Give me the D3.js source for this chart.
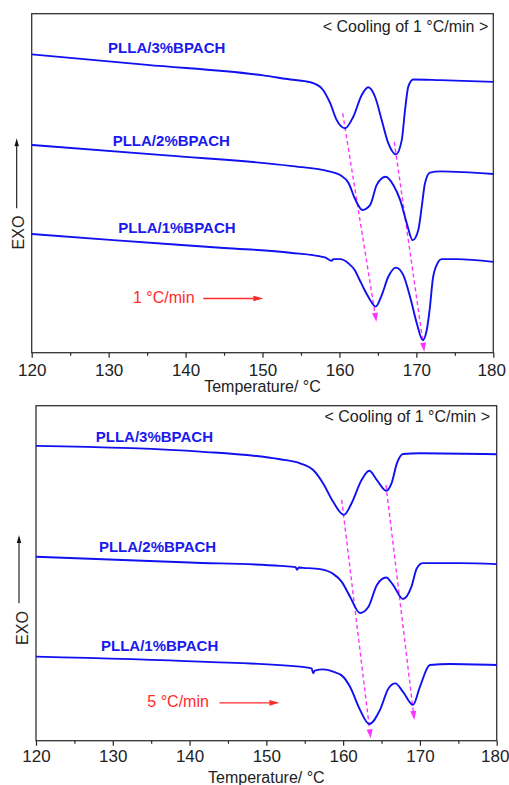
<!DOCTYPE html>
<html>
<head>
<meta charset="utf-8">
<script src="https://d3js.org/d3.v7.min.js"></script>
<style>
body{margin:0;background:#fff;}
text{font-family:"Liberation Sans",Arial,sans-serif;}
</style>
</head>
<body>
<svg id="lienzo" width="509" height="785"></svg>
<script>
/*
	DSC cooling curves PLLA/BPACH (T in °C, heat flow in a.u.)
*/

var ticksX = [120,130,140,150,160,170,180];
var minorX = [125,135,145,155,165,175];
var labels = ['PLLA/3%BPACH','PLLA/2%BPACH','PLLA/1%BPACH'];

// 1 °C/min
var t1_3 = [120,135,150.1,153.6,156.2,157.7,158.8,159.65,160.73,161.8,162.9,163.75,164.63,165.5,166.35,167.35,168.1,168.53,168.95,169.6,173.1,180];
var v1_3 = [88.0,84.9,81.8,80.6,79.8,78.0,73.6,68.6,66.2,69.6,76.0,78.3,75.5,68.6,61.8,58.5,62.7,71.6,78.5,80.6,80.4,79.9];
var t1_2 = [120,137.5,153.6,158.8,160.1,161.2,162.0,163.0,164.0,164.85,166.0,167.0,167.9,168.75,169.53,170.25,170.7,171.12,171.77,173.1,180];
var v1_2 = [61.3,58.2,55.1,53.4,52.4,50.0,45.5,42.1,43.6,49.5,51.9,49.5,45.0,38.2,33.2,36.2,43.1,50.0,53.1,53.5,52.7];
var t1_1 = [120,130.6,145,153.6,158.1,159.0,159.2,160.1,161.2,162.0,162.6,163.2,163.75,164.72,165.5,166.35,167.35,168.3,169.18,170.05,170.83,171.35,171.77,172.12,172.65,173.3,175.25,180];
var v1_1 = [35.0,33.2,30.9,29.5,28.1,27.1,27.6,27.6,26.3,24.3,21.6,18.8,16.5,13.6,17.0,22.4,25.1,22.9,16.5,8.7,3.7,6.7,13.6,21.4,25.9,27.6,27.6,26.8];

// 5 °C/min
var t5_3 = [120,141.4,151.8,154.4,156.1,157.4,158.7,160.1,161.1,162.4,163.4,164.4,165.6,166.3,167.0,167.8,170.0,180];
var v5_3 = [88.0,86.3,84.0,82.8,80.8,76.8,71.3,67.4,70.9,77.8,80.6,77.8,74.6,76.8,82.8,85.6,85.8,85.5];
var t5_2 = [120,140,151.8,153.8,154.0,154.2,154.8,157.0,158.7,159.8,160.9,162.2,163.3,164.4,165.6,166.5,167.8,168.9,169.6,170.4,175.2,180];
var v5_2 = [54.9,53.2,52.2,51.8,51.0,51.7,51.6,51.2,49.8,47.5,43.0,38.1,40.0,46.5,48.7,46.5,42.3,46.0,51.5,53.0,53.0,52.7];
var t5_1 = [120,141.4,154.4,155.9,156.1,156.3,157.4,158.7,160.0,160.9,162.2,163.4,164.8,165.9,166.8,167.8,169.1,170.0,171.3,173.9,180];
var v5_1 = [25.1,23.6,22.1,21.6,20.1,20.9,21.3,20.6,19.1,16.1,9.2,5.0,9.2,15.6,17.1,14.6,10.7,16.1,22.6,22.9,22.6];

// peak shift arrows [t0, v0, t1, v1]
var shift1 = [[160.43,70.6,164.8,9.1],[167.13,62.2,171.03,0.3]];
var shift5 = [[159.81,71.9,163.59,0.7],[165.58,76.3,169.27,6.2]];

function init(){
	panel({
		left:31.7, right:493.3, top:13.7, bottom:352.7, pad:6, title:392,
		curves:[[t1_3,v1_3],[t1_2,v1_2],[t1_1,v1_1]],
		labelPos:[[129.93,88.3],[130.53,61.0],[131.26,35.2]],
		cool:[179.35,94.6],
		rate:'1 °C/min', ratePos:[133.17,14.7], rateArrow:[142.3,150.1,16.0],
		shifts:shift1,
		exo:{x:16.7, base:24, cy:232.5, y0:208.3, y1:138.3}
	});
	panel({
		left:36, right:496.7, top:405.7, bottom:740.7, pad:4, title:782.7,
		curves:[[t5_3,v5_3],[t5_2,v5_2],[t5_1,v5_1]],
		labelPos:[[127.78,89.1],[128.2,56.4],[128.47,26.8]],
		cool:[179.13,95.0],
		rate:'5 °C/min', ratePos:[134.5,10.0], rateArrow:[143.9,151.7,11.3],
		shifts:shift5,
		exo:{x:19, base:28, cy:628, y0:603.3, y1:535}
	});
}

function punta(g, x0, y0, x1, y1, len, half, color){
	var a = Math.atan2(y1-y0, x1-x0);
	var bx = x1-len*Math.cos(a), by = y1-len*Math.sin(a);
	var px = -Math.sin(a)*half, py = Math.cos(a)*half;
	g.append('path')
		.attr('d','M'+x1+','+y1+'L'+(bx+px)+','+(by+py)+'L'+(bx-px)+','+(by-py)+'Z')
		.attr('fill',color);
	return [bx, by];
}

function panel(cfg){
	var lien = d3.select('#lienzo');
	var x = d3.scaleLinear().domain([120,180]).range([cfg.left,cfg.right]);
	var y = d3.scaleLinear().domain([0,100]).range([cfg.bottom,cfg.top]);
	var g = lien.append('g');

	// ticks
	g.append('g')
		.attr('transform','translate(0,'+cfg.bottom+')')
		.call(d3.axisBottom(x).tickValues(minorX).tickSize(3).tickFormat(''))
		.call(function(s){ s.select('.domain').remove(); });
	var ax = g.append('g')
		.attr('transform','translate(0,'+cfg.bottom+')')
		.call(d3.axisBottom(x).tickValues(ticksX).tickSize(5).tickPadding(cfg.pad).tickFormat(d3.format('d')));
	ax.select('.domain').remove();
	ax.selectAll('text').attr('font-size',17).attr('fill','#222')
		.attr('font-family','"Liberation Sans",Arial,sans-serif');
	// last label sits on the page edge
	ax.selectAll('text').filter(function(d){ return d==180; }).attr('dx',-2);
	g.selectAll('.tick line').attr('stroke','#222').attr('stroke-width',1.2);

	// frame
	g.append('rect')
		.attr('x',cfg.left)
		.attr('y',cfg.top)
		.attr('width',cfg.right-cfg.left)
		.attr('height',cfg.bottom-cfg.top)
		.attr('fill','none')
		.attr('stroke','#333')
		.attr('stroke-width',1.3);

	// shift arrows (dashed magenta)
	cfg.shifts.forEach(function(s){
		var x0 = x(s[0]), y0 = y(s[1]), x1 = x(s[2]), y1 = y(s[3]);
		var b = punta(g, x0, y0, x1, y1, 9, 3, '#ff33ff');
		g.append('line')
			.attr('x1',x0).attr('y1',y0).attr('x2',b[0]).attr('y2',b[1])
			.attr('stroke','#ff33ff')
			.attr('stroke-width',1.4)
			.attr('stroke-dasharray','4,3');
	});

	// curves
	var linea = d3.line()
		.x(function(d){ return x(d[0]); })
		.y(function(d){ return y(d[1]); })
		.curve(d3.curveMonotoneX);
	cfg.curves.forEach(function(c){
		g.append('path')
			.datum(d3.zip(c[0],c[1]))
			.attr('d',linea)
			.attr('fill','none')
			.attr('stroke','#1010f0')
			.attr('stroke-width',1.9);
	});

	// sample labels
	labels.forEach(function(l,i){
		g.append('text')
			.attr('x',x(cfg.labelPos[i][0]))
			.attr('y',y(cfg.labelPos[i][1]))
			.attr('font-size',15)
			.attr('font-weight','bold')
			.attr('fill','#1a1aee')
			.text(l);
	});

	g.append('text')
		.attr('x',x(cfg.cool[0]))
		.attr('y',y(cfg.cool[1]))
		.attr('text-anchor','end')
		.attr('font-size',16)
		.attr('fill','#222')
		.text('< Cooling of 1 °C/min >');

	// rate annotation
	g.append('text')
		.attr('x',x(cfg.ratePos[0]))
		.attr('y',y(cfg.ratePos[1]))
		.attr('font-size',16)
		.attr('fill','#ff2a2a')
		.text(cfg.rate);
	var ra = cfg.rateArrow;
	var rb = punta(g, x(ra[0]), y(ra[2]), x(ra[1]), y(ra[2]), 10, 2.8, '#ff2a2a');
	g.append('line')
		.attr('x1',x(ra[0])).attr('y1',y(ra[2]))
		.attr('x2',rb[0]).attr('y2',rb[1])
		.attr('stroke','#ff2a2a')
		.attr('stroke-width',1.4);

	// x title
	g.append('text')
		.attr('x',(cfg.left+cfg.right)/2)
		.attr('y',cfg.title)
		.attr('text-anchor','middle')
		.attr('font-size',16)
		.attr('fill','#222')
		.text('Temperature/ °C');

	// EXO
	var e = cfg.exo;
	g.append('text')
		.attr('transform','translate('+e.base+','+e.cy+') rotate(-90)')
		.attr('text-anchor','middle')
		.attr('font-size',16)
		.attr('fill','#222')
		.text('EXO');
	var eb = punta(g, e.x, e.y0, e.x, e.y1, 8, 2.2, '#111');
	g.append('line')
		.attr('x1',e.x).attr('y1',e.y0).attr('x2',eb[0]).attr('y2',eb[1])
		.attr('stroke','#111')
		.attr('stroke-width',1.1);
}

init();
</script>
</body>
</html>
